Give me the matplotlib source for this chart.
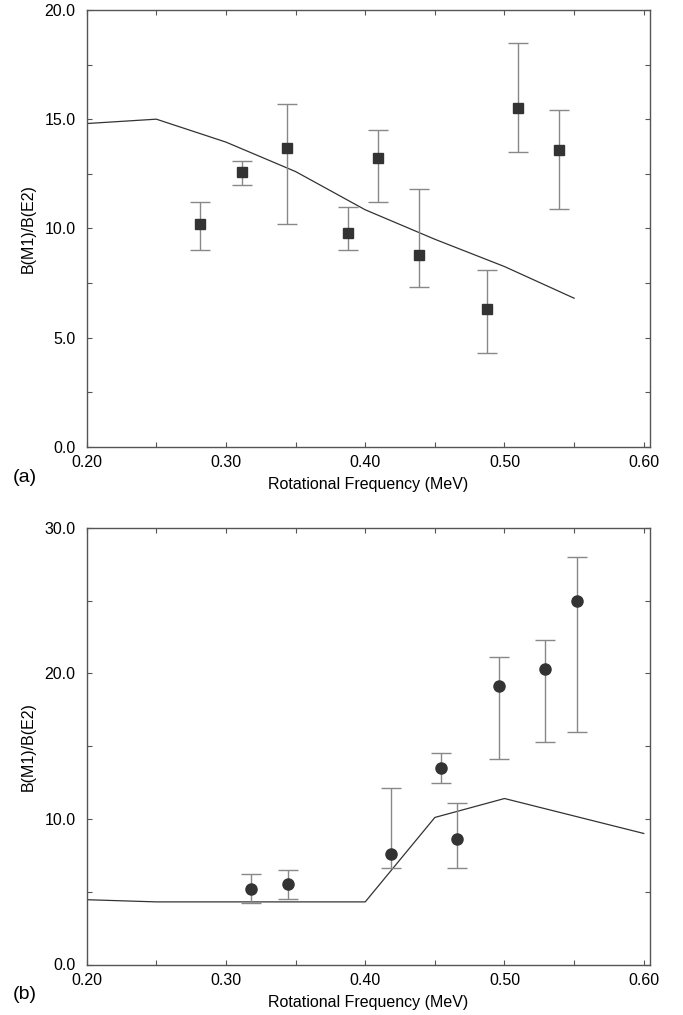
import matplotlib
matplotlib.use("Agg")
import matplotlib.pyplot as plt
from matplotlib.ticker import MultipleLocator, FormatStrFormatter

plt.rcParams['font.family'] = ['Liberation Sans', 'DejaVu Sans']

# Panel (a) data
a_x = [0.2816, 0.3117, 0.3436, 0.3879, 0.4090, 0.4389, 0.4877, 0.5099, 0.5390]
a_y = [10.2, 12.6, 13.7, 9.8, 13.2, 8.8, 6.3, 15.5, 13.6]
a_lo = [9.0, 12.0, 10.2, 9.0, 11.2, 7.3, 4.3, 13.5, 10.9]
a_hi = [11.2, 13.1, 15.7, 11.0, 14.5, 11.8, 8.1, 18.5, 15.4]
a_line_x = [0.20, 0.25, 0.30, 0.35, 0.40, 0.45, 0.50, 0.55]
a_line_y = [14.8, 15.0, 13.95, 12.6, 10.85, 9.5, 8.25, 6.8]

# Panel (b) data
b_x = [0.318, 0.3448, 0.4183, 0.4542, 0.4661, 0.4961, 0.5291, 0.5521]
b_y = [5.2, 5.5, 7.6, 13.5, 8.6, 19.1, 20.3, 25.0]
b_lo = [4.2, 4.5, 6.6, 12.5, 6.6, 14.1, 15.3, 16.0]
b_hi = [6.2, 6.5, 12.1, 14.5, 11.1, 21.1, 22.3, 28.0]
b_line_x = [0.20, 0.25, 0.30, 0.35, 0.40, 0.45, 0.50, 0.55, 0.60]
b_line_y = [4.45, 4.3, 4.3, 4.3, 4.3, 10.1, 11.4, 10.2, 9.0]

xlabel = "Rotational Frequency (MeV)"
ylabel = "B(M1)/B(E2)"

W, H = 683, 1015
fig = plt.figure(figsize=(W/100, H/100), dpi=100)

def make_ax(rect, ymax, ymaj, ymin):
    ax = fig.add_axes(rect)
    ax.set_xlim(0.20, 0.6047)
    ax.set_ylim(0, ymax)
    ax.xaxis.set_major_locator(MultipleLocator(0.1))
    ax.xaxis.set_minor_locator(MultipleLocator(0.05))
    ax.yaxis.set_major_locator(MultipleLocator(ymaj))
    ax.yaxis.set_minor_locator(MultipleLocator(ymin))
    ax.xaxis.set_major_formatter(FormatStrFormatter('%.2f'))
    ax.yaxis.set_major_formatter(FormatStrFormatter('%.1f'))
    ax.tick_params(which='both', direction='in', top=True, right=True,
                   length=3.5, width=0.8, color='#555555', labelsize=11.5)
    ax.tick_params(axis='x', which='both', pad=6)
    ax.tick_params(axis='y', which='both', pad=8)
    for s in ax.spines.values():
        s.set_color('#555555')
        s.set_linewidth(1.0)
    ax.set_xlabel(xlabel, fontsize=11.5, labelpad=5)
    ax.set_ylabel(ylabel, fontsize=11.5, labelpad=6)
    return ax

# Panel (a)
ax1 = make_ax([86.7/W, 1-446.7/H, 563.6/W, 436.7/H], 20, 5, 2.5)
ax1.plot(a_line_x, a_line_y, color='#333333', lw=0.9, zorder=2)
err_lo = [y - l for y, l in zip(a_y, a_lo)]
err_hi = [h - y for y, h in zip(a_y, a_hi)]
ax1.errorbar(a_x, a_y, yerr=[err_lo, err_hi], fmt='none', ecolor='#888888',
             elinewidth=1.0, capsize=7, capthick=1.0, zorder=3)
ax1.plot(a_x, a_y, 's', color='#333333', markersize=6.5, zorder=4)
fig.text(13/W, 1-478/H, "(a)", fontsize=14, ha='left', va='center')

# Panel (b)
ax2 = make_ax([86.7/W, 1-964.5/H, 563.6/W, 436.8/H], 30, 10, 5)
ax2.plot(b_line_x, b_line_y, color='#333333', lw=0.9, zorder=2)
err_lo = [y - l for y, l in zip(b_y, b_lo)]
err_hi = [h - y for y, h in zip(b_y, b_hi)]
ax2.errorbar(b_x, b_y, yerr=[err_lo, err_hi], fmt='none', ecolor='#888888',
             elinewidth=1.0, capsize=7, capthick=1.0, zorder=3)
ax2.plot(b_x, b_y, 'o', color='#333333', markersize=8, zorder=4)
fig.text(13/W, 1-994.5/H, "(b)", fontsize=14, ha='left', va='center')

fig.savefig("out.png", dpi=100)
